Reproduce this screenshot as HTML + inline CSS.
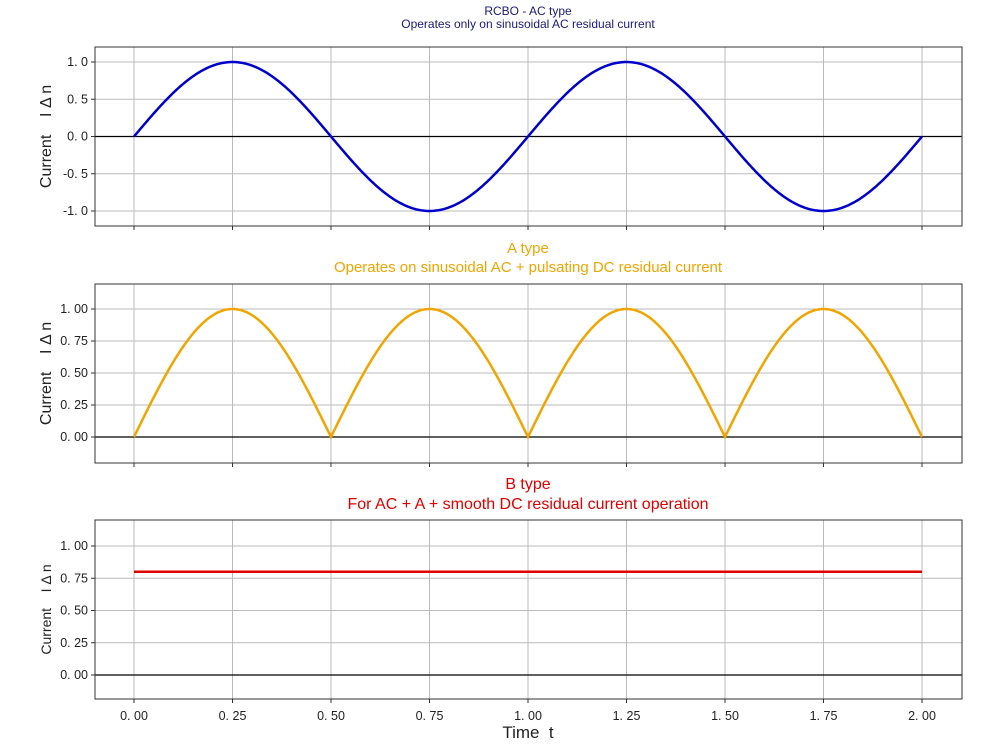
<!DOCTYPE html>
<html><head><meta charset="utf-8"><style>
body{margin:0;background:#fff}
text{font-family:"Liberation Sans","Noto Sans CJK SC",sans-serif;fill:#222;white-space:pre}
</style></head><body>
<svg id="s" width="1000" height="750" xmlns="http://www.w3.org/2000/svg">
<text x="528" y="15" font-size="12" text-anchor="middle" style="fill:#1a1a7a">RCBO - AC type</text>
<text x="528" y="28" font-size="12" text-anchor="middle" style="fill:#1a1a7a">Operates only on sinusoidal AC residual current</text>
<text x="528" y="253" font-size="15" text-anchor="middle" style="fill:#f0a500">A type</text>
<text x="528" y="272" font-size="15" text-anchor="middle" style="fill:#f0a500">Operates on sinusoidal AC + pulsating DC residual current</text>
<text x="528" y="489" font-size="16" text-anchor="middle" style="fill:#e00000">B type</text>
<text x="528" y="509" font-size="16" text-anchor="middle" style="fill:#e00000">For AC + A + smooth DC residual current operation</text>
<text x="528" y="738" font-size="17" text-anchor="middle">Time  t</text>
</svg>
<script>
const s=document.getElementById('s');const NS='http://www.w3.org/2000/svg';
function el(t,a,txt){const e=document.createElementNS(NS,t);for(const k in a)e.setAttribute(k,a[k]);if(txt!==undefined)e.textContent=txt;s.appendChild(e);return e;}
const X=v=>134+v*394;
const sp=v=>v.replace('.','. ');
const axes=[
 {top:47,bot:226,z:136.5,k:74.5,ticks:[1,0.5,0,-0.5,-1],fmt:v=>sp(v.toFixed(1)),f:t=>Math.sin(2*Math.PI*t),c:'#0000cc',lab:16},
 {top:284,bot:463,z:437,k:128,ticks:[1,0.75,0.5,0.25,0],fmt:v=>sp(v.toFixed(2)),f:t=>Math.abs(Math.sin(2*Math.PI*t)),c:'#f0a500',lab:16},
 {top:520,bot:699,z:675,k:129,ticks:[1,0.75,0.5,0.25,0],fmt:v=>sp(v.toFixed(2)),f:t=>0.8,c:'#e00000',lab:14}
];
axes.forEach((a,i)=>{
 for(let j=0;j<=8;j++){const x=X(j*0.25);el('line',{x1:x,x2:x,y1:a.top,y2:a.bot,stroke:'#bbb','stroke-width':1});el('line',{x1:x,x2:x,y1:a.bot,y2:a.bot+4,stroke:'#333'});
  if(i==2)el('text',{x:x,y:a.bot+21,'font-size':12.5,'text-anchor':'middle'},sp((j*0.25).toFixed(2)));}
 a.ticks.forEach(v=>{const y=a.z-v*a.k;el('line',{x1:95,x2:962,y1:y,y2:y,stroke:'#bbb'});el('line',{x1:91,x2:95,y1:y,y2:y,stroke:'#333'});
  el('text',{x:88,y:y+4,'font-size':12.5,'text-anchor':'end'},a.fmt(v));});
 el('line',{x1:95,x2:962,y1:a.z,y2:a.z,stroke:'#000','stroke-width':1.2});
 let p='';for(let n=0;n<=800;n++){const t=n/400;p+=(n?'L':'M')+X(t).toFixed(2)+','+(a.z-a.f(t)*a.k).toFixed(2);}
 el('path',{d:p,fill:'none',stroke:a.c,'stroke-width':2.5});
 el('rect',{x:95,y:a.top,width:867,height:a.bot-a.top,fill:'none',stroke:'#333','stroke-width':1});
 const cy=(a.top+a.bot)/2;
 el('text',{x:0,y:0,'font-size':a.lab,'text-anchor':'middle',transform:`translate(51,${cy}) rotate(-90)`},'Current    I Δ n');
});
</script>
</body></html>
